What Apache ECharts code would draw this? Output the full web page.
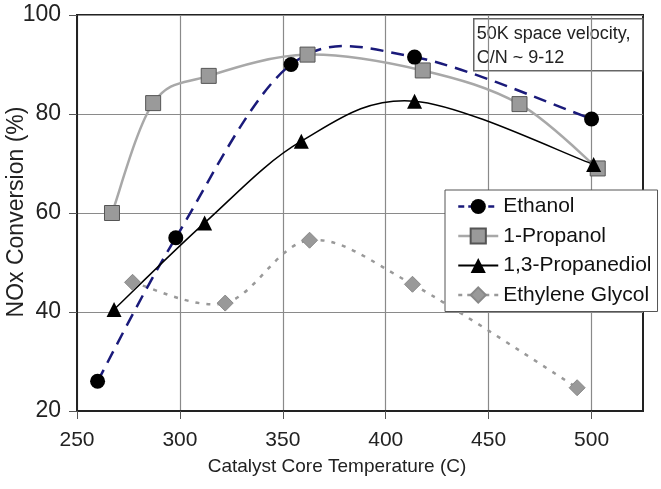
<!DOCTYPE html>
<html>
<head>
<meta charset="utf-8">
<script src="https://cdn.jsdelivr.net/npm/echarts@6/dist/echarts.min.js"></script>
<style>
  html, body { margin: 0; padding: 0; background: #fff; }
  #main { width: 661px; height: 489px; }
</style>
</head>
<body>
<div id="main"></div>
<script>
// values
var ethanolX = [260, 298, 354, 414, 500];
var ethanolY = [26, 55, 90, 91.5, 79];
var propanolX = [267, 287, 314, 362, 418, 465, 503];
var propanolY = [60, 82.2, 87.7, 92, 88.8, 82, 69];
var propanediolX = [268, 312, 359, 414, 501];
var propanediolY = [40.5, 58, 74.5, 82.6, 69.8];
var glycolX = [277, 322, 363, 413, 493];
var glycolY = [46, 41.8, 54.5, 45.6, 24.7];

var xTicks = [250, 300, 350, 400, 450, 500];
var yTicks = [20, 40, 60, 80, 100];

var font = 'Liberation Sans, Arial, sans-serif';

var ethanolLine = { color: '#1a1a7a', width: 2.5, type: [13, 8] };
var propanolLine = { color: '#a8a8a8', width: 2.5, type: 'solid' };
var propanediolLine = { color: '#000', width: 1.5, type: 'solid' };
var glycolLine = { color: '#999', width: 2.5, type: [4, 7] };

function pairs(xs, ys) {
    return xs.map(function(x, i) { return [x, ys[i]]; });
}

// excel-like smoothed curve: one bezier per segment, built from the points in pixel space
function curveSeries(name, xs, ys, lineStyle, z) {
    return {
        name: name,
        type: 'custom',
        coordinateSystem: 'cartesian2d',
        data: pairs(xs, ys),
        z: z,
        silent: true,
        renderItem: function(params, api) {
            var i = params.dataIndex;
            var n = xs.length;
            if (i >= n - 1) return null;
            var pt = function(k) {
                k = Math.max(0, Math.min(n - 1, k));
                return api.coord([xs[k], ys[k]]);
            };
            var p0 = pt(i - 1), p1 = pt(i), p2 = pt(i + 1), p3 = pt(i + 2);
            return {
                type: 'bezierCurve',
                shape: {
                    x1: p1[0], y1: p1[1],
                    x2: p2[0], y2: p2[1],
                    cpx1: p1[0] + (p2[0] - p0[0]) / 6,
                    cpy1: p1[1] + (p2[1] - p0[1]) / 6,
                    cpx2: p2[0] - (p3[0] - p1[0]) / 6,
                    cpy2: p2[1] - (p3[1] - p1[1]) / 6
                },
                style: {
                    fill: null,
                    stroke: lineStyle.color,
                    lineWidth: lineStyle.width,
                    lineDash: lineStyle.type === 'solid' ? null : lineStyle.type
                }
            };
        }
    };
}

var myChart = echarts.init(document.getElementById('main'));

var option = {
    backgroundColor: '#fff',
    animation: false,
    grid: {
        left: 77,
        top: 15,
        right: 18,
        bottom: 78,
        show: true,
        borderColor: '#222',
        borderWidth: 2
    },
    xAxis: {
        type: 'value',
        min: 250,
        max: 525,
        interval: 25,
        axisLine: { lineStyle: { color: '#222', width: 2 } },
        axisTick: { show: true, customValues: xTicks, length: 8, lineStyle: { color: '#555' } },
        axisLabel: {
            customValues: xTicks,
            margin: 19,
            fontSize: 21,
            color: '#222',
            fontFamily: font
        },
        splitLine: { show: true, lineStyle: { color: '#8a8a8a', width: 1.2 } }
    },
    yAxis: {
        type: 'value',
        min: 20,
        max: 100,
        interval: 10,
        axisLine: { lineStyle: { color: '#222', width: 2 } },
        axisTick: { show: true, customValues: yTicks, length: 8, lineStyle: { color: '#555' } },
        axisLabel: {
            customValues: yTicks,
            margin: 16,
            fontSize: 23,
            color: '#222',
            fontFamily: font
        },
        splitLine: { show: true, lineStyle: { color: '#8a8a8a', width: 1.2 } }
    },
    legend: {
        left: 445,
        top: 190,
        orient: 'vertical',
        selectedMode: false,
        backgroundColor: '#fff',
        borderColor: '#555',
        borderWidth: 1,
        padding: [6, 6, 6, 12],
        itemWidth: 40,
        itemHeight: 19,
        itemGap: 8.5,
        textStyle: { fontSize: 21, color: '#111', fontFamily: font },
        data: [
            { name: 'Ethanol', lineStyle: { color: ethanolLine.color, width: 2.5, type: [6, 4], opacity: 1 } },
            { name: '1-Propanol', lineStyle: { color: propanolLine.color, width: 2.5, type: 'solid', opacity: 1 } },
            { name: '1,3-Propanediol', lineStyle: { color: propanediolLine.color, width: 2, type: 'solid', opacity: 1 } },
            { name: 'Ethylene Glycol', lineStyle: { color: glycolLine.color, width: 2.5, type: [4, 5], opacity: 1 } }
        ],
        z: 10
    },
    graphic: [
        {
            type: 'group',
            left: 473,
            top: 18,
            z: 10,
            children: [
                {
                    type: 'rect',
                    shape: { x: 0, y: 0, width: 169, height: 52 },
                    style: { fill: '#fff', stroke: '#666', lineWidth: 1.5 }
                },
                {
                    type: 'text',
                    x: 3,
                    y: 3,
                    style: {
                        text: '50K space velocity,\nC/N ~ 9-12',
                        fontSize: 18,
                        lineHeight: 24,
                        fill: '#222',
                        fontFamily: font
                    }
                }
            ]
        },
        {
            type: 'text',
            x: 17,
            y: 212,
            rotation: Math.PI / 2,
            style: {
                text: 'NOx Conversion (%)',
                fontSize: 23,
                fill: '#222',
                fontFamily: font,
                align: 'center',
                verticalAlign: 'middle'
            }
        },
        {
            type: 'text',
            x: 337,
            y: 467,
            style: {
                text: 'Catalyst Core Temperature (C)',
                fontSize: 19,
                fill: '#222',
                fontFamily: font,
                align: 'center',
                verticalAlign: 'middle'
            }
        }
    ],
    series: [
        curveSeries('ethanol-curve', ethanolX, ethanolY, ethanolLine, 4),
        curveSeries('propanol-curve', propanolX, propanolY, propanolLine, 3),
        curveSeries('propanediol-curve', propanediolX, propanediolY, propanediolLine, 5),
        curveSeries('glycol-curve', glycolX, glycolY, glycolLine, 2),
        {
            name: 'Ethanol',
            type: 'line',
            data: pairs(ethanolX, ethanolY),
            symbol: 'circle',
            symbolSize: 15,
            lineStyle: { opacity: 0 },
            itemStyle: { color: '#000' },
            z: 8
        },
        {
            name: '1-Propanol',
            type: 'line',
            data: pairs(propanolX, propanolY),
            symbol: 'rect',
            symbolSize: 15,
            lineStyle: { opacity: 0 },
            itemStyle: { color: '#9a9a9a', borderColor: '#555', borderWidth: 1 },
            z: 7
        },
        {
            name: '1,3-Propanediol',
            type: 'line',
            data: pairs(propanediolX, propanediolY),
            symbol: 'triangle',
            symbolSize: 15,
            lineStyle: { opacity: 0 },
            itemStyle: { color: '#000' },
            z: 9
        },
        {
            name: 'Ethylene Glycol',
            type: 'line',
            data: pairs(glycolX, glycolY),
            symbol: 'diamond',
            symbolSize: 16,
            lineStyle: { opacity: 0 },
            itemStyle: { color: '#999', borderColor: '#888', borderWidth: 1 },
            z: 6
        }
    ]
};

myChart.setOption(option);
</script>
</body>
</html>
